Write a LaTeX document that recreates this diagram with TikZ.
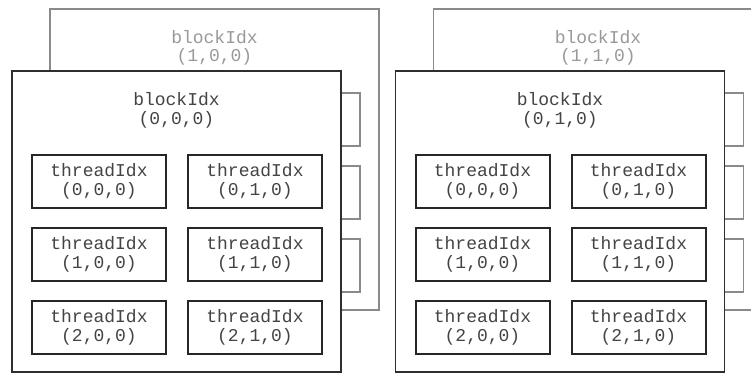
\documentclass[tikz,border=0pt]{standalone}
\usepackage{fontspec}
\setmonofont{Liberation Mono}
\usetikzlibrary{positioning}
\definecolor{backgray}{HTML}{8A8A8A}
\definecolor{frontgray}{HTML}{2E2E2E}
\definecolor{textgray}{HTML}{444444}
\definecolor{backtext}{HTML}{999999}
\tikzset{
    idx text/.style={align=center,font=\fontsize{13.5pt}{14pt}\ttfamily},
    block/.style={draw=frontgray,fill=white,line width=1pt,
        minimum width=246.75pt,minimum height=225.75pt,inner sep=0pt},
    back block/.style={block,draw=backgray},
    thread/.style={idx text,draw=black!85,fill=white,line width=1.5pt,
        minimum width=100.5pt,minimum height=39.75pt,inner sep=0pt,text=textgray},
    back thread/.style={thread,draw=backgray,line width=1pt},
    block label/.style={idx text,text=textgray},
    back label/.style={idx text,text=backtext},
}

\begin{document}
\begin{tikzpicture}[x=0.75pt,y=-0.75pt]
	\useasboundingbox (0,0) rectangle (751,373);
	\foreach \g [evaluate=\g as \dx using 383.5*\g] in {0,1} {
		% block behind, shifted up and right
		\node[back block] (back\g) at (214.5+\dx,159.5) {};
		\node[back label] (backlab\g) at (214.5+\dx,48) {blockIdx\\(1,\g,0)};
		\foreach \r/\ry in {0/-40,1/33,2/106}
		\foreach \c/\cx in {0/-77.5,1/78.5}
		\node[back thread] (backt\g\r\c) at (214.5+\dx+\cx,159.5+\ry) {};
		% block in front
		\node[block] (front\g) at (176.5+\dx,221.5) {};
		\node[block label] (frontlab\g) at (176.5+\dx,110.5) {blockIdx\\(0,\g,0)};
		\foreach \r/\ry in {0/-40,1/33,2/106}
		\foreach \c/\cx in {0/-77.5,1/78.5}
		\node[thread] (t\g\r\c) at (176.5+\dx+\cx,221.5+\ry) {threadIdx\\(\r,\c,0)};
	}
\end{tikzpicture}
\end{document}
